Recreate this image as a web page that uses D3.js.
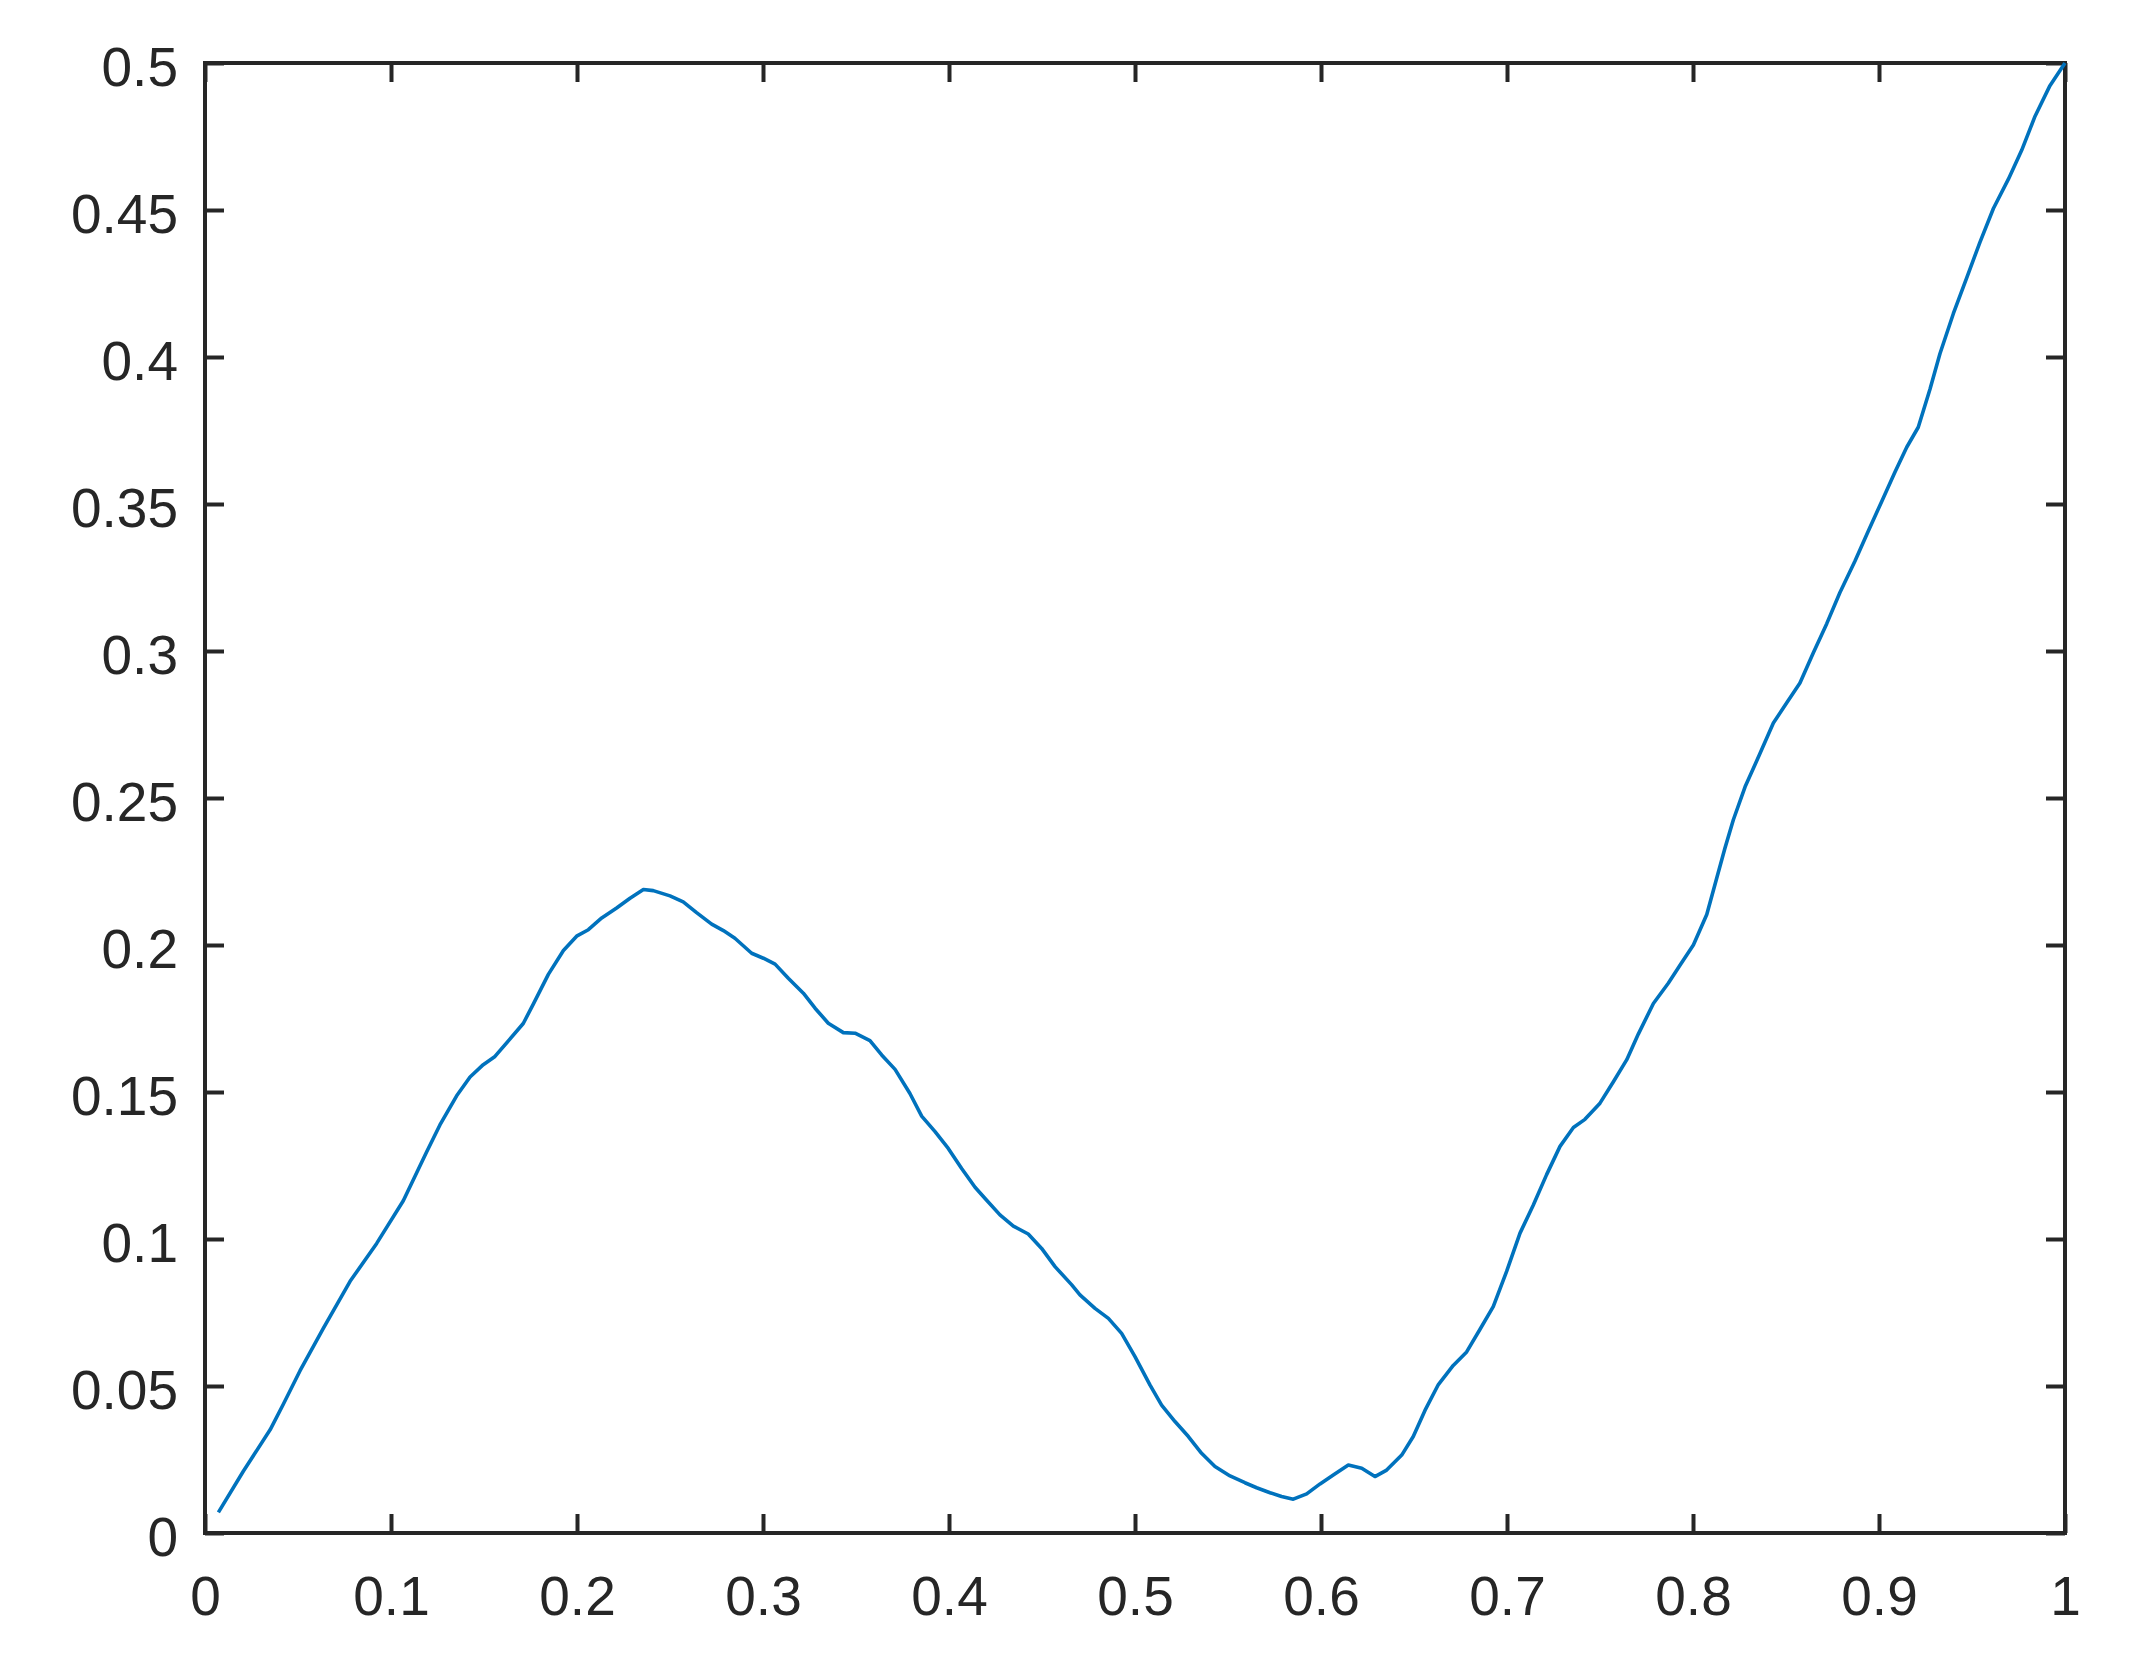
<!DOCTYPE html>
<html>
<head>
<meta charset="utf-8">
<script src="https://cdn.jsdelivr.net/npm/d3@7"></script>
<style>
  html, body { margin: 0; padding: 0; background: #fff; }
  svg { display: block; }
</style>
</head>
<body>
<script>
const xValues = [0.0072,0.0206,0.0350,0.0421,0.0511,0.0636,0.0780,0.0923,0.1066,0.1192,0.1263,0.1353,0.1425,0.1496,0.1559,0.1711,0.1765,0.1846,0.1927,0.1998,0.2061,0.2133,0.2213,0.2285,0.2357,0.2410,0.2500,0.2571,0.2643,0.2724,0.2787,0.2849,0.2939,0.3002,0.3065,0.3136,0.3217,0.3280,0.3351,0.3432,0.3495,0.3575,0.3638,0.3710,0.3790,0.3853,0.3925,0.3996,0.4068,0.4140,0.4194,0.4274,0.4346,0.4426,0.4498,0.4570,0.4660,0.4704,0.4785,0.4857,0.4928,0.5000,0.5081,0.5143,0.5215,0.5287,0.5358,0.5430,0.5511,0.5591,0.5654,0.5726,0.5788,0.5851,0.5923,0.5995,0.6066,0.6147,0.6219,0.6290,0.6353,0.6434,0.6496,0.6559,0.6631,0.6711,0.6783,0.6855,0.6926,0.6998,0.7070,0.7141,0.7213,0.7285,0.7357,0.7419,0.7500,0.7572,0.7644,0.7706,0.7787,0.7867,0.7930,0.8002,0.8074,0.8127,0.8172,0.8217,0.8280,0.8360,0.8432,0.8504,0.8575,0.8647,0.8719,0.8790,0.8871,0.8942,0.9014,0.9086,0.9149,0.9211,0.9274,0.9328,0.9400,0.9472,0.9543,0.9615,0.9695,0.9767,0.9839,0.9919,1.0000];
const yValues = [0.0070,0.0210,0.0351,0.0438,0.0552,0.0696,0.0856,0.0985,0.1130,0.1297,0.1388,0.1487,0.1551,0.1593,0.1621,0.1733,0.1799,0.1900,0.1981,0.2030,0.2052,0.2092,0.2126,0.2159,0.2189,0.2185,0.2167,0.2147,0.2110,0.2071,0.2049,0.2023,0.1972,0.1955,0.1935,0.1887,0.1836,0.1785,0.1734,0.1702,0.1700,0.1675,0.1626,0.1577,0.1495,0.1418,0.1365,0.1308,0.1240,0.1176,0.1138,0.1082,0.1044,0.1017,0.0968,0.0906,0.0844,0.0810,0.0764,0.0730,0.0679,0.0600,0.0503,0.0435,0.0379,0.0328,0.0271,0.0226,0.0194,0.0171,0.0154,0.0137,0.0124,0.0115,0.0133,0.0167,0.0197,0.0231,0.0220,0.0192,0.0214,0.0265,0.0328,0.0417,0.0505,0.0570,0.0616,0.0693,0.0770,0.0890,0.1020,0.1115,0.1219,0.1315,0.1379,0.1407,0.1462,0.1535,0.1610,0.1697,0.1801,0.1870,0.1931,0.2000,0.2104,0.2226,0.2330,0.2426,0.2538,0.2651,0.2755,0.2824,0.2891,0.2994,0.3093,0.3199,0.3306,0.3407,0.3508,0.3609,0.3693,0.3761,0.3890,0.4012,0.4148,0.4270,0.4391,0.4505,0.4604,0.4703,0.4819,0.4923,0.5000];
const xTicks = [0,0.1,0.2,0.3,0.4,0.5,0.6,0.7,0.8,0.9,1];
const yTicks = [0,0.05,0.1,0.15,0.2,0.25,0.3,0.35,0.4,0.45,0.5];

const W = 2129, H = 1660;
const L = 205, R = 2065, T = 63, B = 1533;
const axisColor = "#262626";
const fontSize = 55;
const tickLen = 19;
const axisWidth = 4;

const svg = d3.select("body").append("svg").attr("width", W).attr("height", H);
svg.append("rect").attr("width", W).attr("height", H).attr("fill", "#fff");

const x = d3.scaleLinear().domain([0, 1]).range([L, R]);
const y = d3.scaleLinear().domain([0, 0.5]).range([B, T]);
const fmt = d => String(+d.toFixed(2));

function styleAxis(g) {
  g.selectAll(".domain").remove();
  g.selectAll(".tick line").attr("stroke", axisColor).attr("stroke-width", axisWidth);
  g.selectAll(".tick text").attr("fill", axisColor)
    .style("font-family", "'Liberation Sans', Arial, Helvetica, sans-serif")
    .style("font-size", fontSize + "px");
}

svg.append("g").attr("transform", `translate(0,${B})`)
  .call(d3.axisBottom(x).tickValues(xTicks).tickFormat(fmt).tickSizeInner(-tickLen).tickSizeOuter(0).tickPadding(43))
  .call(styleAxis);
svg.append("g").attr("transform", `translate(0,${T})`)
  .call(d3.axisTop(x).tickValues(xTicks).tickFormat("").tickSizeInner(-tickLen).tickSizeOuter(0))
  .call(styleAxis);
const gl = svg.append("g").attr("transform", `translate(${L},0)`)
  .call(d3.axisLeft(y).tickValues(yTicks).tickFormat(fmt).tickSizeInner(-tickLen).tickSizeOuter(0).tickPadding(27))
  .call(styleAxis);
gl.selectAll(".tick text").attr("dy", "0.41em");
svg.append("g").attr("transform", `translate(${R},0)`)
  .call(d3.axisRight(y).tickValues(yTicks).tickFormat("").tickSizeInner(-tickLen).tickSizeOuter(0))
  .call(styleAxis);

svg.append("rect").attr("x", L).attr("y", T).attr("width", R - L).attr("height", B - T)
  .attr("fill", "none").attr("stroke", axisColor).attr("stroke-width", axisWidth);

const data = xValues.map((v, i) => [v, yValues[i]]);
svg.append("path").datum(data)
  .attr("fill", "none").attr("stroke", "#0072BD").attr("stroke-width", 3.6)
  .attr("stroke-linejoin", "round").attr("stroke-linecap", "butt")
  .attr("d", d3.line().x(d => x(d[0])).y(d => y(d[1])));
</script>
</body>
</html>
